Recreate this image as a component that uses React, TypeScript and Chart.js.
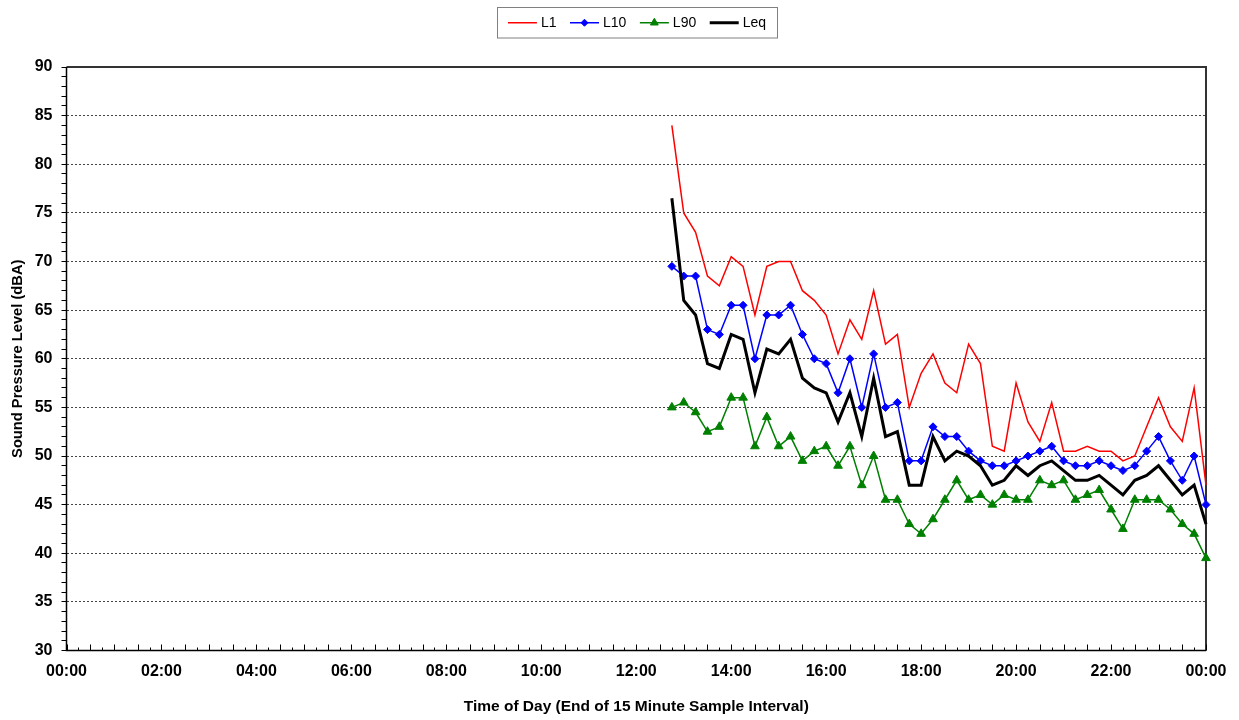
import React, { useEffect, useRef } from 'react';
import { Chart, registerables } from 'chart.js';

Chart.register(...registerables);

// ---- Data ----
const times = [
  '12:45', '13:00', '13:15', '13:30', '13:45', '14:00', '14:15', '14:30', '14:45', '15:00',
  '15:15', '15:30', '15:45', '16:00', '16:15', '16:30', '16:45', '17:00', '17:15', '17:30',
  '17:45', '18:00', '18:15', '18:30', '18:45', '19:00', '19:15', '19:30', '19:45', '20:00',
  '20:15', '20:30', '20:45', '21:00', '21:15', '21:30', '21:45', '22:00', '22:15', '22:30',
  '22:45', '23:00', '23:15', '23:30', '23:45', '00:00',
];

const L1 = [
  84, 75, 73, 68.5, 67.5, 70.5, 69.5, 64.5, 69.5, 70,
  70, 67, 66, 64.5, 60.5, 64, 62, 67, 61.5, 62.5,
  55, 58.5, 60.5, 57.5, 56.5, 61.5, 59.5, 51, 50.5, 57.5,
  53.5, 51.5, 55.5, 50.5, 50.5, 51, 50.5, 50.5, 49.5, 50,
  53, 56, 53, 51.5, 57, 47,
];

const L10 = [
  69.5, 68.5, 68.5, 63, 62.5, 65.5, 65.5, 60, 64.5, 64.5,
  65.5, 62.5, 60, 59.5, 56.5, 60, 55, 60.5, 55, 55.5,
  49.5, 49.5, 53, 52, 52, 50.5, 49.5, 49, 49, 49.5,
  50, 50.5, 51, 49.5, 49, 49, 49.5, 49, 48.5, 49,
  50.5, 52, 49.5, 47.5, 50, 45,
];

const L90 = [
  55, 55.5, 54.5, 52.5, 53, 56, 56, 51, 54, 51,
  52, 49.5, 50.5, 51, 49, 51, 47, 50, 45.5, 45.5,
  43, 42, 43.5, 45.5, 47.5, 45.5, 46, 45, 46, 45.5,
  45.5, 47.5, 47, 47.5, 45.5, 46, 46.5, 44.5, 42.5, 45.5,
  45.5, 45.5, 44.5, 43, 42, 39.5,
];

const Leq = [
  76.5, 66, 64.5, 59.5, 59, 62.5, 62, 56.5, 61, 60.5,
  62, 58, 57, 56.5, 53.5, 56.5, 52, 58, 52, 52.5,
  47, 47, 52, 49.5, 50.5, 50, 49, 47, 47.5, 49,
  48, 49, 49.5, 48.5, 47.5, 47.5, 48, 47, 46, 47.5,
  48, 49, 47.5, 46, 47, 43,
];

const xTickLabels = [
  '00:00', '02:00', '04:00', '06:00', '08:00', '10:00', '12:00',
  '14:00', '16:00', '18:00', '20:00', '22:00', '00:00',
];

const seriesNames = ['L1', 'L10', 'L90', 'Leq'];

const FONT = '"Liberation Sans", Arial, sans-serif';

function toHours(t: string, i: number): number {
  const [h, m] = t.split(':').map(Number);
  let v = h + m / 60;
  if (i > 0 && v === 0) v = 24;
  return v;
}

const hours = times.map(toHours);
const pts = (arr: number[]) => arr.map((y, i) => ({ x: hours[i], y }));

function drawMarker(ctx: CanvasRenderingContext2D, style: string, x: number, y: number, r: number, color: string) {
  ctx.save();
  ctx.fillStyle = color;
  ctx.strokeStyle = color;
  ctx.lineWidth = 1;
  ctx.beginPath();
  if (style === 'rectRot') {
    ctx.moveTo(x - r, y);
    ctx.lineTo(x, y - r);
    ctx.lineTo(x + r, y);
    ctx.lineTo(x, y + r);
  } else if (style === 'triangle') {
    ctx.moveTo(x, y - r);
    ctx.lineTo(x + r * Math.sin(Math.PI * 2 / 3), y - r * Math.cos(Math.PI * 2 / 3));
    ctx.lineTo(x + r * Math.sin(Math.PI * 4 / 3), y - r * Math.cos(Math.PI * 4 / 3));
  }
  ctx.closePath();
  ctx.fill();
  ctx.stroke();
  ctx.restore();
}

const framePlugin = {
  id: 'framePlugin',
  beforeDatasetsDraw(chart: any) {
    const { ctx, chartArea, scales } = chart;
    const { left, right, top, bottom } = chartArea;
    ctx.save();
    ctx.strokeStyle = '#333333';
    ctx.lineWidth = 2;
    ctx.beginPath();
    ctx.moveTo(left, top);
    ctx.lineTo(right, top);
    ctx.lineTo(right, bottom);
    ctx.stroke();
    ctx.strokeStyle = '#000000';
    ctx.lineWidth = 1.5;
    ctx.beginPath();
    ctx.moveTo(left, top);
    ctx.lineTo(left, bottom);
    ctx.lineTo(right, bottom);
    ctx.stroke();
    const xs = scales.x;
    ctx.lineWidth = 1;
    ctx.strokeStyle = '#000000';
    for (let q = 0; q <= 96; q++) {
      const t = q / 4;
      const px = Math.round(xs.getPixelForValue(t)) + 0.5;
      const len = q % 2 === 0 ? 6 : 3;
      ctx.beginPath();
      ctx.moveTo(px, bottom);
      ctx.lineTo(px, bottom - len);
      ctx.stroke();
    }
    ctx.restore();
  },
};

const legendPlugin = {
  id: 'customLegend',
  afterDraw(chart: any) {
    const { ctx } = chart;
    const datasets = chart.data.datasets;
    ctx.save();
    ctx.font = `14px ${FONT}`;
    ctx.textBaseline = 'middle';
    const lineLen = 29;
    const gapLT = 4;
    const gapItem = 13.5;
    const widths = datasets.map((d: any) => ctx.measureText(d.label).width);
    let total = 0;
    widths.forEach((w: number, i: number) => {
      total += lineLen + gapLT + w + (i < widths.length - 1 ? gapItem : 0);
    });
    const boxL = 497, boxR = 777, boxT = 7.5, boxB = 38;
    ctx.strokeStyle = '#808080';
    ctx.lineWidth = 1;
    ctx.strokeRect(boxL + 0.5, boxT, boxR - boxL, boxB - boxT);
    let x = (boxL + boxR) / 2 - total / 2;
    const y = (boxT + boxB) / 2;
    datasets.forEach((d: any, i: number) => {
      ctx.strokeStyle = d.borderColor;
      ctx.lineWidth = d.borderWidth;
      ctx.beginPath();
      ctx.moveTo(x, y);
      ctx.lineTo(x + lineLen, y);
      ctx.stroke();
      if (d.pointRadius > 0) {
        drawMarker(ctx, d.pointStyle, x + lineLen / 2, y, d.pointStyle === 'triangle' ? 4.5 : 3.5, d.borderColor);
      }
      x += lineLen + gapLT;
      ctx.fillStyle = '#000000';
      ctx.fillText(d.label, x, y + 0.5);
      x += widths[i] + gapItem;
    });
    ctx.restore();
  },
};

export default function App() {
  const canvasRef = useRef<HTMLCanvasElement | null>(null);

  useEffect(() => {
    const canvas = canvasRef.current;
    if (!canvas) return;
    const chart = new Chart(canvas, {
      type: 'line',
      data: {
        datasets: [
          {
            label: seriesNames[0],
            data: pts(L1),
            borderColor: '#FF0000',
            backgroundColor: '#FF0000',
            borderWidth: 1.5,
            pointRadius: 0,
            pointStyle: 'circle',
            tension: 0,
            clip: false,
            order: 3,
          },
          {
            label: seriesNames[1],
            data: pts(L10),
            borderColor: '#0000FF',
            backgroundColor: '#0000FF',
            borderWidth: 1.5,
            pointRadius: 4,
            pointBorderWidth: 1,
            pointStyle: 'rectRot',
            tension: 0,
            clip: false,
            order: 2,
          },
          {
            label: seriesNames[2],
            data: pts(L90),
            borderColor: '#008000',
            backgroundColor: '#008000',
            borderWidth: 1.5,
            pointRadius: 5,
            pointBorderWidth: 1,
            pointStyle: 'triangle',
            tension: 0,
            clip: false,
            order: 1,
          },
          {
            label: seriesNames[3],
            data: pts(Leq),
            borderColor: '#000000',
            backgroundColor: '#000000',
            borderWidth: 3,
            pointRadius: 0,
            pointStyle: 'circle',
            tension: 0,
            clip: false,
            order: 0,
          },
        ],
      },
      options: {
        responsive: false,
        animation: false,
        devicePixelRatio: 1,
        layout: { padding: { top: 67, left: 0, right: 33, bottom: 0 } },
        plugins: {
          legend: { display: false },
          tooltip: { enabled: false },
          title: { display: false },
        },
        scales: {
          x: {
            type: 'linear',
            min: 0,
            max: 24,
            afterFit: (scale: any) => { scale.height = 69.5; },
            ticks: {
              stepSize: 2,
              autoSkip: false,
              maxRotation: 0,
              padding: 11,
              color: '#000000',
              font: { family: FONT, size: 16, weight: 'bold' },
              callback: (v: any) => xTickLabels[Math.round(Number(v) / 2)] ?? '',
            },
            grid: { display: true, drawOnChartArea: false, drawTicks: false },
            border: { display: false },
            title: {
              display: true,
              text: 'Time of Day (End of 15 Minute Sample Interval)',
              color: '#000000',
              font: { family: FONT, size: 15.5, weight: 'bold' },
              padding: { top: 0, bottom: 3.7 },
            },
          },
          y: {
            type: 'linear',
            min: 30,
            max: 90,
            afterFit: (scale: any) => { scale.width = 66.5; },
            ticks: {
              stepSize: 1,
              autoSkip: false,
              padding: 9,
              color: '#000000',
              font: { family: FONT, size: 16, weight: 'bold' },
              callback: (v: any) => (Number(v) % 5 === 0 ? String(v) : ''),
            },
            grid: {
              display: true,
              drawOnChartArea: true,
              drawTicks: true,
              tickLength: 5,
              tickColor: '#000000',
              tickWidth: 1,
              tickBorderDash: [],
              lineWidth: 1,
              color: (c: any) => {
                const v = c.tick ? c.tick.value : 0;
                return v % 5 === 0 && v !== 30 && v !== 90 ? '#444444' : 'rgba(0,0,0,0)';
              },
            },
            border: { display: false, dash: [2, 2] },
            title: {
              display: true,
              text: 'Sound Pressure Level (dBA)',
              color: '#000000',
              font: { family: FONT, size: 14.7, weight: 'bold' },
              padding: { top: 9.2, bottom: 0 },
            },
          },
        },
      },
      plugins: [framePlugin, legendPlugin],
    } as any);
    return () => chart.destroy();
  }, []);

  return (
    <div style={{ position: 'fixed', left: 0, top: 0, width: 1239, height: 720, background: '#ffffff' }}>
      <canvas ref={canvasRef} width={1239} height={720} style={{ display: 'block' }} />
    </div>
  );
}
